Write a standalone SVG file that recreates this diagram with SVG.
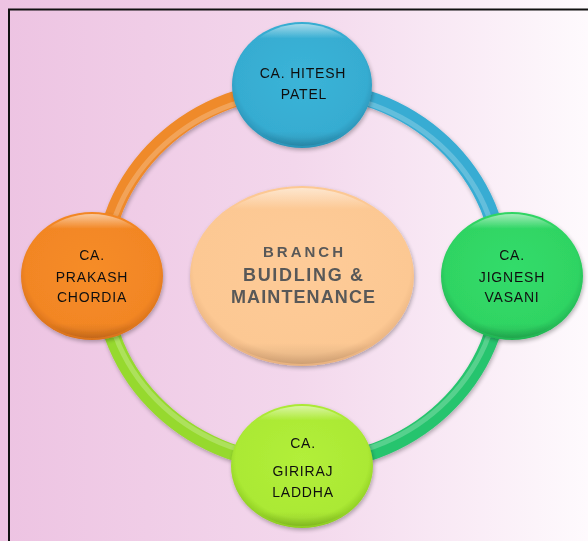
<svg xmlns="http://www.w3.org/2000/svg" width="588" height="541" viewBox="0 0 588 541">
<defs>
<linearGradient id="bg" x1="0" y1="0" x2="1" y2="0">
<stop offset="0" stop-color="#edc3e2"/>
<stop offset="0.5" stop-color="#f3d7ec"/>
<stop offset="1" stop-color="#fefafd"/>
</linearGradient>
<radialGradient id="gBlue" cx="0.5" cy="0.45" r="0.55">
<stop offset="0" stop-color="#3bb4d8"/>
<stop offset="0.85" stop-color="#36acd1"/>
<stop offset="1" stop-color="#2a92b6"/>
</radialGradient>
<radialGradient id="gGreen" cx="0.5" cy="0.45" r="0.55">
<stop offset="0" stop-color="#33dc6a"/>
<stop offset="0.85" stop-color="#2fd463"/>
<stop offset="1" stop-color="#22b453"/>
</radialGradient>
<radialGradient id="gOrange" cx="0.5" cy="0.45" r="0.55">
<stop offset="0" stop-color="#f68c28"/>
<stop offset="0.85" stop-color="#f28624"/>
<stop offset="1" stop-color="#d8711a"/>
</radialGradient>
<radialGradient id="gLime" cx="0.5" cy="0.45" r="0.55">
<stop offset="0" stop-color="#b2ef3a"/>
<stop offset="0.85" stop-color="#abe934"/>
<stop offset="1" stop-color="#8ccb22"/>
</radialGradient>
<radialGradient id="gPeach" cx="0.5" cy="0.45" r="0.55">
<stop offset="0" stop-color="#fecb98"/>
<stop offset="0.88" stop-color="#fcc893"/>
<stop offset="1" stop-color="#e6b07e"/>
</radialGradient>
<linearGradient id="hl" x1="0" y1="0" x2="0" y2="1">
<stop offset="0" stop-color="#ffffff" stop-opacity="0.55"/>
<stop offset="0.12" stop-color="#ffffff" stop-opacity="0"/>
<stop offset="0.88" stop-color="#000000" stop-opacity="0"/>
<stop offset="1" stop-color="#000000" stop-opacity="0.12"/>
</linearGradient>
<filter id="sh" x="-20%" y="-20%" width="140%" height="140%">
<feGaussianBlur in="SourceAlpha" stdDeviation="2"/>
<feOffset dx="1" dy="2"/>
<feComponentTransfer><feFuncA type="linear" slope="0.3"/></feComponentTransfer>
<feMerge><feMergeNode/><feMergeNode in="SourceGraphic"/></feMerge>
</filter>
</defs>
<style>
.lbl{font-family:"Liberation Sans",Arial,sans-serif;font-size:14px;fill:#111;text-anchor:middle;letter-spacing:0.8px}
.ctr{font-family:"Liberation Sans",Arial,sans-serif;fill:#585858;text-anchor:middle;font-weight:bold}
.tube{fill:none;stroke-width:16;stroke-linecap:butt}
.tubehl{fill:none;stroke-width:5;stroke-opacity:0.22;stroke:#ffffff}
.hl{fill:url(#hl)}
</style>
<rect x="0" y="0" width="588" height="541" fill="url(#bg)"/>
<rect x="9" y="9.5" width="600" height="560" fill="none" stroke="#111" stroke-width="2"/>
<g id="connectors" filter="url(#sh)">
<path class="tube" stroke="#ef8a2a" d="M102 276 A200 188 0 0 1 302 88"/>
<path class="tube" stroke="#38acd3" d="M302 88 A200 188 0 0 1 502 276"/>
<path class="tube" stroke="#27c46e" d="M502 276 A200 188 0 0 1 302 464"/>
<path class="tube" stroke="#96d92e" d="M302 464 A200 188 0 0 1 102 276"/>
<path class="tubehl" d="M104 272 A197 185 0 0 1 302 93"/>
<path class="tubehl" d="M302 93 A197 185 0 0 1 500 272"/>
<path class="tubehl" d="M500 278 A197 185 0 0 1 302 459"/>
<path class="tubehl" d="M302 459 A197 185 0 0 1 104 278"/>
</g>
<g id="center" filter="url(#sh)">
<ellipse cx="302" cy="276" rx="112" ry="90" fill="url(#gPeach)"/>
<ellipse class="hl" cx="302" cy="276" rx="110" ry="88"/>
<text class="ctr" x="303" y="257" font-size="15" textLength="80" lengthAdjust="spacing">BRANCH</text>
<text class="ctr" x="303" y="281" font-size="18" textLength="120" lengthAdjust="spacing">BUIDLING &amp;</text>
<text class="ctr" x="303" y="303" font-size="18" textLength="144" lengthAdjust="spacing">MAINTENANCE</text>
</g>
<g id="node-hitesh" filter="url(#sh)">
<ellipse cx="302" cy="85" rx="70" ry="63" fill="url(#gBlue)"/>
<ellipse class="hl" cx="302" cy="85" rx="68" ry="61"/>
<text class="lbl" x="303" y="78">CA. HITESH</text>
<text class="lbl" x="304" y="99">PATEL</text>
</g>
<g id="node-jignesh" filter="url(#sh)">
<ellipse cx="512" cy="276" rx="71" ry="64" fill="url(#gGreen)"/>
<ellipse class="hl" cx="512" cy="276" rx="69" ry="62"/>
<text class="lbl" x="512" y="260">CA.</text>
<text class="lbl" x="512" y="282">JIGNESH</text>
<text class="lbl" x="512" y="302">VASANI</text>
</g>
<g id="node-prakash" filter="url(#sh)">
<ellipse cx="92" cy="276" rx="71" ry="64" fill="url(#gOrange)"/>
<ellipse class="hl" cx="92" cy="276" rx="69" ry="62"/>
<text class="lbl" x="92" y="260">CA.</text>
<text class="lbl" x="92" y="282">PRAKASH</text>
<text class="lbl" x="92" y="302">CHORDIA</text>
</g>
<g id="node-giriraj" filter="url(#sh)">
<ellipse cx="302" cy="466" rx="71" ry="62" fill="url(#gLime)"/>
<ellipse class="hl" cx="302" cy="466" rx="69" ry="60"/>
<text class="lbl" x="303" y="448">CA.</text>
<text class="lbl" x="303" y="476">GIRIRAJ</text>
<text class="lbl" x="303" y="497">LADDHA</text>
</g>
</svg>
